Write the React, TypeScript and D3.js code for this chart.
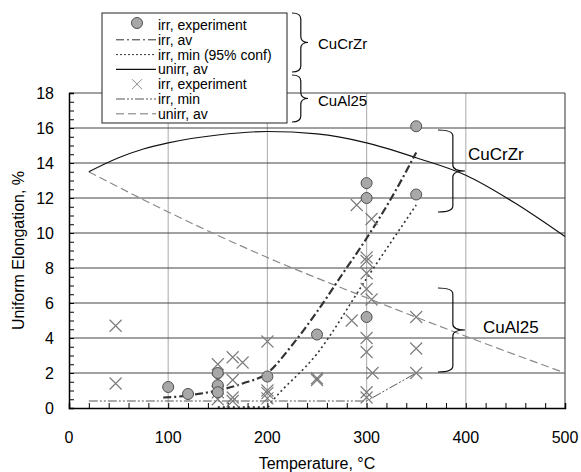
import React, { useEffect, useRef } from "react";
import * as d3 from "d3";

// axis ticks
const tempTicks = [0, 100, 200, 300, 400, 500];
const elongTicks = [0, 2, 4, 6, 8, 10, 12, 14, 16, 18];

// CuCrZr
const cucrzrIrrExp: [number, number][] = [
  [100, 1.2], [120, 0.8], [150, 2.0], [150, 1.3], [150, 0.9], [200, 1.8],
  [250, 4.2], [300, 5.2], [300, 12.0], [300, 12.85], [350, 12.2], [350, 16.1],
];
const cucrzrIrrAv: [number, number][] = [
  [95, 0.6], [110, 0.65], [130, 0.8], [150, 1.0], [175, 1.4], [200, 2.0],
  [225, 3.6], [250, 5.5], [275, 7.6], [300, 9.7], [325, 12.0], [350, 14.6],
];
const cucrzrIrrMin: [number, number][] = [
  [150, 0.05], [200, 0.05], [205, 0.4], [250, 3.1], [300, 7.4], [350, 11.6],
];
const cucrzrUnirrAv: [number, number][] = [
  [20, 13.5], [50, 14.3], [75, 14.8], [100, 15.15], [150, 15.6], [200, 15.8],
  [250, 15.66], [300, 15.15], [350, 14.3], [400, 13.3], [450, 11.7], [500, 9.8],
];

// CuAl25
const cual25IrrExp: [number, number][] = [
  [47, 4.7], [47, 1.4],
  [150, 2.5], [150, 1.6], [150, 0.9], [150, 0.5],
  [165, 2.9], [165, 1.6], [165, 0.6], [165, 0.4], [175, 2.6],
  [200, 3.8], [200, 1.0], [200, 0.85], [200, 0.55],
  [250, 1.7], [250, 1.6], [285, 5.0], [290, 11.6],
  [305, 10.8], [300, 8.6], [300, 8.4], [300, 7.7], [300, 6.8], [305, 6.2],
  [300, 4.0], [300, 3.2], [306, 2.0], [300, 0.9], [300, 0.6],
  [350, 5.2], [350, 3.4], [350, 2.0],
];
const cual25IrrMin: [number, number][] = [[20, 0.4], [300, 0.4], [350, 2.0]];
const cual25UnirrAv: [number, number][] = [
  [20, 13.5], [100, 11.2], [200, 8.6], [300, 6.3], [400, 4.1], [500, 2.0],
];

const legendLabels = [
  "irr, experiment", "irr, av", "irr, min (95% conf)", "unirr, av",
  "irr, experiment", "irr, min", "unirr, av",
];

const W = 581, H = 472;
const font = "'Liberation Sans', Arial, sans-serif";

const App = () => {
  const ref = useRef<SVGSVGElement>(null);

  useEffect(() => {
    const svg = d3.select(ref.current);
    svg.selectAll("*").remove();

    const x = d3.scaleLinear().domain([0, 500]).range([69, 565]);
    const y = d3.scaleLinear().domain([0, 18]).range([408, 93]);

    const g = svg.append("g");

    // vertical grid
    g.selectAll(".vg").data(tempTicks.slice(1, -1)).enter().append("line")
      .attr("x1", d => x(d)).attr("x2", d => x(d))
      .attr("y1", y(0)).attr("y2", y(18))
      .attr("stroke", "#b8b8b8").attr("stroke-width", 1.2);
    // horizontal grid
    g.selectAll(".hg").data(elongTicks.slice(1)).enter().append("line")
      .attr("x1", x(0)).attr("x2", x(500))
      .attr("y1", d => y(d)).attr("y2", d => y(d))
      .attr("stroke", "#444").attr("stroke-width", 1);

    // frame
    g.append("line").attr("x1", x(500)).attr("x2", x(500)).attr("y1", y(0)).attr("y2", y(18))
      .attr("stroke", "#333");

    // axes (ticks pointing inward)
    const xAxis = d3.axisTop(x).tickValues(d3.range(0, 501, 20)).tickSize(5).tickFormat(() => "");
    g.append("g").attr("transform", `translate(0,${y(0)})`).call(xAxis)
      .call(a => a.select(".domain").attr("stroke", "#000").attr("stroke-width", 1.5));
    const yAxis = d3.axisRight(y).tickValues(d3.range(0, 18.01, 0.5)).tickSize(5).tickFormat(() => "");
    g.append("g").attr("transform", `translate(${x(0)},0)`).call(yAxis)
      .call(a => a.select(".domain").attr("stroke", "#000").attr("stroke-width", 1.5));

    // tick labels
    g.selectAll(".xl").data(tempTicks).enter().append("text")
      .attr("x", d => x(d)).attr("y", 443).attr("text-anchor", "middle")
      .attr("font-family", font).attr("font-size", 16).text(d => d);
    g.selectAll(".yl").data(elongTicks).enter().append("text")
      .attr("x", 54).attr("y", d => y(d) + 5.5).attr("text-anchor", "end")
      .attr("font-family", font).attr("font-size", 16).text(d => d);

    // axis titles
    g.append("text").attr("x", 317).attr("y", 469).attr("text-anchor", "middle")
      .attr("font-family", font).attr("font-size", 16).text("Temperature, °C");
    g.append("text").attr("transform", `translate(24,${(y(0) + y(18)) / 2}) rotate(-90)`)
      .attr("text-anchor", "middle").attr("font-family", font).attr("font-size", 16)
      .text("Uniform Elongation, %");

    const line = d3.line<[number, number]>().x(d => x(d[0])).y(d => y(d[1]));
    const smooth = d3.line<[number, number]>().x(d => x(d[0])).y(d => y(d[1])).curve(d3.curveMonotoneX);

    const drawLine = (data: [number, number][], gen: any, color: string, w: number, dash: string | null) =>
      g.append("path").attr("d", gen(data)).attr("fill", "none")
        .attr("stroke", color).attr("stroke-width", w).attr("stroke-dasharray", dash);

    drawLine(cual25UnirrAv, smooth, "#8a8a8a", 1.2, "8,4");
    drawLine(cual25IrrMin, line, "#555", 1, "9,2,2,2,2,2");
    drawLine(cucrzrUnirrAv, smooth, "#111", 1.2, null);
    drawLine(cucrzrIrrMin, smooth, "#333", 1.6, "2,3");
    drawLine(cucrzrIrrAv, smooth, "#333", 2.2, "8,3,2,3");

    // crosses
    const cr = 6;
    const crossPath = (cx: number, cy: number, s: number) =>
      `M${cx - s},${cy - s}L${cx + s},${cy + s}M${cx - s},${cy + s}L${cx + s},${cy - s}`;
    g.selectAll(".cx").data(cual25IrrExp).enter().append("path")
      .attr("d", d => crossPath(x(d[0]), y(d[1]), cr))
      .attr("stroke", "#7a7a7a").attr("stroke-width", 1.1).attr("fill", "none");

    // circles
    g.selectAll(".ci").data(cucrzrIrrExp).enter().append("circle")
      .attr("cx", d => x(d[0])).attr("cy", d => y(d[1])).attr("r", 5.5)
      .attr("fill", "#a8a8a8").attr("stroke", "#505050").attr("stroke-width", 1);

    // legend
    const lg = svg.append("g");
    lg.append("rect").attr("x", 102).attr("y", 13).attr("width", 185).attr("height", 110)
      .attr("fill", "#fff").attr("stroke", "#222").attr("stroke-width", 1);
    const rowY = (i: number) => 25 + i * 14.8;
    lg.selectAll(".lt").data(legendLabels).enter().append("text")
      .attr("x", 158).attr("y", (d, i) => rowY(i) + 5)
      .attr("font-family", font).attr("font-size", 14).text(d => d);
    lg.append("circle").attr("cx", 137).attr("cy", rowY(0) - 2).attr("r", 5.5)
      .attr("fill", "#a8a8a8").attr("stroke", "#505050");
    const legLines: [number, string, number, string | null][] = [
      [1, "#333", 1, "8,3,2,3"],
      [2, "#333", 1, "2,2"],
      [3, "#111", 1.2, null],
      [5, "#555", 1, "9,2,2,2,2,2"],
      [6, "#777", 1, "8,4"],
    ];
    legLines.forEach(([i, c, w, dash]) => {
      lg.append("line").attr("x1", 116).attr("x2", 156).attr("y1", rowY(i)).attr("y2", rowY(i))
        .attr("stroke", c).attr("stroke-width", w).attr("stroke-dasharray", dash);
    });
    lg.append("path").attr("d", crossPath(137, rowY(4), 5))
      .attr("stroke", "#888").attr("fill", "none");

    // braces
    const brace = (xl: number, y1: number, y2: number, depth: number) => {
      const ym = (y1 + y2) / 2;
      const xm = xl + depth * 0.55;
      const xt = xl + depth;
      const r = 6;
      return `M${xl},${y1} Q${xm},${y1} ${xm},${y1 + r} L${xm},${ym - r} Q${xm},${ym} ${xt},${ym}` +
        ` Q${xm},${ym} ${xm},${ym + r} L${xm},${y2 - r} Q${xm},${y2} ${xl},${y2}`;
    };
    const bg = svg.append("g").attr("fill", "none").attr("stroke", "#111").attr("stroke-width", 1.2);
    bg.append("path").attr("d", brace(292, 13, 72, 16));
    bg.append("path").attr("d", brace(292, 75, 122, 16));
    bg.append("path").attr("d", brace(438, 130, 212, 27));
    bg.append("path").attr("d", brace(438, 288, 372, 27));

    const labels: [number, number, string][] = [
      [318, 49, "CuCrZr"], [318, 106, "CuAl25"], [468, 160, "CuCrZr"], [483, 333, "CuAl25"],
    ];
    svg.selectAll(".bl").data(labels).enter().append("text")
      .attr("x", d => d[0]).attr("y", d => d[1])
      .attr("font-family", font).attr("font-size", (d, i) => (i < 2 ? 15 : 17))
      .text(d => d[2]);
  }, []);

  return (
    <svg ref={ref} width={W} height={H}
      style={{ position: "absolute", left: 0, top: 0, background: "#fff" }} />
  );
};

export default App;
